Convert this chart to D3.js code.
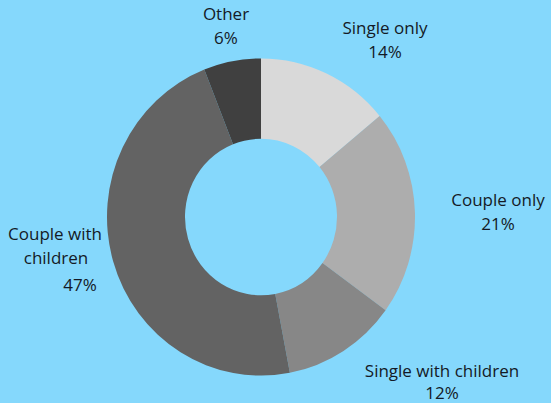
<!DOCTYPE html>
<html>
<head>
<meta charset="utf-8">
<script src="https://cdn.jsdelivr.net/npm/d3@7/dist/d3.min.js"></script>
<style>
  html, body { margin: 0; padding: 0; background: #85d8fc; }
  svg { display: block; }
</style>
</head>
<body>
<svg id="chart" width="551" height="403"></svg>
<script>
// Household composition shares (percent)
const categories = ["Single only", "Couple only", "Single with children", "Couple with children", "Other"];
const shares = [14, 21, 12, 47, 6];
const colors = ["#d9d9d9", "#adadad", "#878787", "#636363", "#404040"];

// Label placement: lines of text with their anchor points
const labelLayout = [
  { lines: [["Single only", 385, 34], ["14%", 385, 58]] },
  { lines: [["Couple only", 498, 206], ["21%", 498, 230]] },
  { lines: [["Single with children", 442, 377], ["12%", 442, 399]] },
  { lines: [["Couple with", 55, 240], ["children", 56, 264], ["47%", 80, 291]] },
  { lines: [["Other", 226, 20], ["6%", 226, 44]] }
];

const svg = d3.select("#chart");
const W = 551, H = 403;

svg.append("rect").attr("width", W).attr("height", H).attr("fill", "#85d8fc");

const cx = 261, cy = 217;
const outerR = 154, innerR = 76;

const pie = d3.pie().sort(null).value(d => d.value);
const arc = d3.arc().innerRadius(innerR).outerRadius(outerR);

const data = categories.map((c, i) => ({ name: c, value: shares[i], color: colors[i] }));

const g = svg.append("g")
  .attr("transform", `translate(${cx},${cy}) scale(1,1.03)`);

g.selectAll("path")
  .data(pie(data))
  .join("path")
  .attr("d", arc)
  .attr("fill", d => d.data.color);

const labels = svg.append("g")
  .attr("font-family", "'Open Sans', sans-serif")
  .attr("font-size", 17)
  .attr("fill", "#141a26")
  .attr("text-anchor", "middle");

labelLayout.forEach(l => {
  l.lines.forEach(([t, x, y]) => {
    labels.append("text").attr("x", x).attr("y", y).text(t);
  });
});
</script>
</body>
</html>
